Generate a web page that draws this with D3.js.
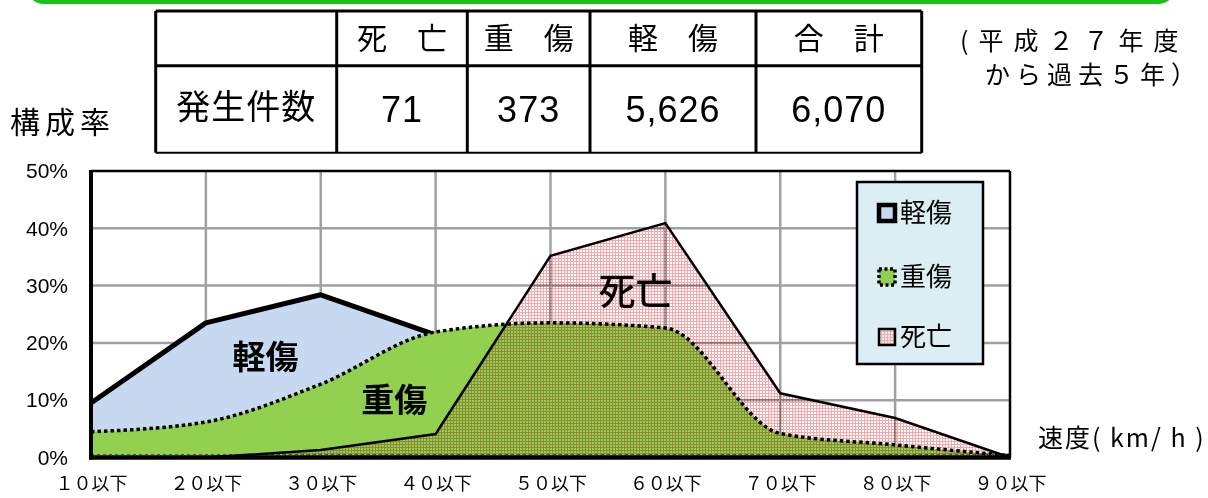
<!DOCTYPE html>
<meta charset="utf-8">
<style>
body { margin: 0; background: #fff; }
svg text { font-family: "Noto Sans CJK JP", "Noto Sans", sans-serif; fill: #000; }
.num { font-family: "Liberation Sans", Arial, sans-serif; }
</style>
<svg width="1208" height="498"></svg>
<script src="https://d3js.org/d3.v7.min.js"></script>
<script>

// speed bands (km/h) and share of each injury class per band
var speeds = ["１０以下", "２０以下", "３０以下", "４０以下", "５０以下", "６０以下", "７０以下", "８０以下", "９０以下"];
var keisho = [0.095, 0.235, 0.284, 0.214, 0.120, 0.036, 0.010, 0.004, 0.002];   // 軽傷
var jusho  = [0.045, 0.062, 0.128, 0.219, 0.235, 0.226, 0.042, 0.022, 0.003];   // 重傷
var shibo  = [0.000, 0.000, 0.013, 0.041, 0.352, 0.409, 0.112, 0.069, 0.000];   // 死亡
var yTicks = [0, 0.1, 0.2, 0.3, 0.4, 0.5];

// summary table
var tableHeads  = ["死　亡", "重　傷", "軽　傷", "合　計"];
var tableCounts = ["71", "373", "5,626", "6,070"];
var rowLabel = "発生件数";

var svg = d3.select("svg"),
    W = +svg.attr("width"),
    H = +svg.attr("height");

svg.append("rect").attr("width", W).attr("height", H).attr("fill", "#fff");

var x = d3.scalePoint().domain(speeds).range([91, 1010]),
    y = d3.scaleLinear().domain([0, 0.5]).range([457.5, 171]);

var defs = svg.append("defs");
var pat = defs.append("pattern")
    .attr("id", "pinkHatch")
    .attr("patternUnits", "userSpaceOnUse")
    .attr("width", 3).attr("height", 3);
pat.append("rect").attr("width", 3).attr("height", 1).attr("fill", "#f7a8ab");
pat.append("rect").attr("width", 1).attr("height", 3).attr("fill", "#f7a8ab");

// top frame edge (bottom of title box)
svg.append("rect")
    .attr("x", 28).attr("y", -40)
    .attr("width", 1146).attr("height", 42)
    .attr("rx", 16)
    .attr("fill", "none")
    .attr("stroke", "#18c418")
    .attr("stroke-width", 4);

// ---- table ----
var colEdges = [155.7, 336.7, 467.3, 590, 756, 921.7],
    rowEdges = [11, 65.7, 152.7];

var tbl = svg.append("g");
tbl.selectAll("line.v").data(colEdges).enter().append("line")
    .attr("x1", function(d) { return d; }).attr("x2", function(d) { return d; })
    .attr("y1", rowEdges[0]).attr("y2", rowEdges[2])
    .attr("stroke", "#000").attr("stroke-width", 3);
tbl.selectAll("line.h").data(rowEdges).enter().append("line")
    .attr("x1", colEdges[0]).attr("x2", colEdges[5])
    .attr("y1", function(d) { return d; }).attr("y2", function(d) { return d; })
    .attr("stroke", "#000").attr("stroke-width", function(d, i) { return i == 2 ? 2 : 3; });

tbl.selectAll("text.head").data(tableHeads).enter().append("text")
    .attr("x", function(d, i) { return (colEdges[i + 1] + colEdges[i + 2]) / 2; })
    .attr("y", (rowEdges[0] + rowEdges[1]) / 2)
    .attr("dy", "0.36em")
    .attr("text-anchor", "middle")
    .style("font-size", "30px")
    .text(function(d) { return d; });

tbl.selectAll("text.cnt").data(tableCounts).enter().append("text")
    .attr("class", "num")
    .attr("x", function(d, i) { return (colEdges[i + 1] + colEdges[i + 2]) / 2; })
    .attr("y", (rowEdges[1] + rowEdges[2]) / 2)
    .attr("dy", "0.36em")
    .attr("text-anchor", "middle")
    .style("font-size", "36px")
    .style("letter-spacing", "1px")
    .text(function(d) { return d; });

tbl.append("text")
    .attr("x", (colEdges[0] + colEdges[1]) / 2)
    .attr("y", (rowEdges[1] + rowEdges[2]) / 2 - 2)
    .attr("dy", "0.36em")
    .attr("text-anchor", "middle")
    .style("font-size", "34px")
    .style("letter-spacing", "1px")
    .text(rowLabel);

svg.append("text")
    .attr("x", 960).attr("y", 50)
    .style("font-size", "25px")
    .style("letter-spacing", "10px")
    .text("(平成２７年度");
svg.append("text")
    .attr("x", 985).attr("y", 84)
    .style("font-size", "25px")
    .style("letter-spacing", "6px")
    .text("から過去５年）");

svg.append("text")
    .attr("x", 10).attr("y", 133)
    .style("font-size", "30px")
    .style("letter-spacing", "5px")
    .text("構成率");

// ---- plot ----
var grid = svg.append("g").attr("stroke", "#a0a0a0").attr("stroke-width", 2.5);
grid.selectAll("line.gy").data(yTicks.slice(1, -1)).enter().append("line")
    .attr("x1", x.range()[0]).attr("x2", x.range()[1])
    .attr("y1", function(d) { return y(d); }).attr("y2", function(d) { return y(d); });
grid.selectAll("line.gx").data(speeds.slice(1, -1)).enter().append("line")
    .attr("x1", function(d) { return x(d); }).attr("x2", function(d) { return x(d); })
    .attr("y1", y(0.5)).attr("y2", y(0));

function areaOf(vals, curve) {
  return d3.area()
      .x(function(d, i) { return x(speeds[i]); })
      .y0(y(0))
      .y1(function(d) { return y(d); })
      .curve(curve)(vals);
}
function lineOf(vals, curve) {
  return d3.line()
      .x(function(d, i) { return x(speeds[i]); })
      .y(function(d) { return y(d); })
      .curve(curve)(vals);
}

// 軽傷
svg.append("path").attr("d", areaOf(keisho, d3.curveLinear)).attr("fill", "#c6d9f0");
svg.append("path").attr("d", lineOf(keisho, d3.curveLinear))
    .attr("fill", "none").attr("stroke", "#000").attr("stroke-width", 5)
    .attr("stroke-linejoin", "round");

// 重傷
svg.append("path").attr("d", areaOf(jusho, d3.curveMonotoneX)).attr("fill", "#92d050");
svg.append("path").attr("d", lineOf(jusho, d3.curveMonotoneX))
    .attr("fill", "none").attr("stroke", "#000").attr("stroke-width", 3.5)
    .attr("stroke-dasharray", "3.5,3");
svg.append("line")
    .attr("x1", x.range()[0]).attr("x2", x.range()[1])
    .attr("y1", y(0) - 3).attr("y2", y(0) - 3)
    .attr("stroke", "#555").attr("stroke-width", 1).attr("stroke-dasharray", "3,3");

// 死亡
svg.append("path").attr("d", areaOf(shibo, d3.curveLinear))
    .attr("fill", "url(#pinkHatch)")
    .style("mix-blend-mode", "multiply");
svg.append("path").attr("d", lineOf(shibo, d3.curveLinear))
    .attr("fill", "none").attr("stroke", "#000").attr("stroke-width", 2.5);

// frame
var fr = svg.append("g").attr("stroke", "#000");
fr.append("line").attr("x1", x.range()[0]).attr("x2", x.range()[1]).attr("y1", y(0.5)).attr("y2", y(0.5)).attr("stroke-width", 2.5);
fr.append("line").attr("x1", x.range()[1]).attr("x2", x.range()[1]).attr("y1", y(0.5)).attr("y2", y(0)).attr("stroke-width", 2.5);
fr.append("line").attr("x1", x.range()[0]).attr("x2", x.range()[0]).attr("y1", y(0.5) - 1).attr("y2", y(0) + 2).attr("stroke-width", 4);
fr.append("line").attr("x1", x.range()[0] - 2).attr("x2", x.range()[1] + 1).attr("y1", y(0)).attr("y2", y(0)).attr("stroke-width", 4.5);

// axes
var yAxis = svg.append("g")
    .attr("transform", "translate(" + x.range()[0] + ",0)")
    .call(d3.axisLeft(y).tickValues(yTicks).tickFormat(d3.format(".0%")).tickSize(0).tickPadding(23));
yAxis.select(".domain").remove();
yAxis.selectAll("text").attr("class", "num").style("font-size", "21px");

var xAxis = svg.append("g")
    .attr("transform", "translate(0," + y(0) + ")")
    .call(d3.axisBottom(x).tickSize(0).tickPadding(20));
xAxis.select(".domain").remove();
xAxis.selectAll("text").style("font-size", "18px").style("font-family", "'Noto Sans CJK JP'");

// in-chart labels
var step = x.step();
svg.append("text")
    .attr("x", x(speeds[1]) + step * 0.52).attr("y", y(0.175)).attr("dy", "0.36em")
    .attr("text-anchor", "middle").style("font-size", "33px").style("font-weight", "bold")
    .text("軽傷");
svg.append("text")
    .attr("x", x(speeds[2]) + step * 0.64).attr("y", y(0.1)).attr("dy", "0.36em")
    .attr("text-anchor", "middle").style("font-size", "33px").style("font-weight", "bold")
    .text("重傷");
svg.append("text")
    .attr("x", x(speeds[4]) + step * 0.74).attr("y", y(0.29)).attr("dy", "0.36em")
    .attr("text-anchor", "middle").style("font-size", "37px").style("font-weight", "500")
    .text("死亡");

svg.append("text")
    .attr("x", 1038).attr("y", 447)
    .style("font-size", "25px")
    .style("letter-spacing", "2px")
    .text("速度( km/ h )");

// legend
var lg = svg.append("g").attr("transform", "translate(857,182)");
lg.append("rect").attr("width", 126).attr("height", 182)
    .attr("fill", "#dbeef4").attr("stroke", "#000").attr("stroke-width", 2.5);

var legendItems = [
  { name: "軽傷", fill: "#c6d9f0", stroke: "#000", sw: 4.5, dash: null },
  { name: "重傷", fill: "#92d050", stroke: "#000", sw: 3.5, dash: "3,2.5" },
  { name: "死亡", fill: "url(#pinkHatch)", stroke: "#000", sw: 2.5, dash: null }
];
var lgRows = [31, 95, 155];
var li = lg.selectAll("g.item").data(legendItems).enter().append("g")
    .attr("transform", function(d, i) { return "translate(0," + lgRows[i] + ")"; });
li.append("rect")
    .attr("x", 22).attr("y", -8).attr("width", 16).attr("height", 16)
    .attr("fill", function(d) { return d.fill; })
    .attr("stroke", function(d) { return d.stroke; })
    .attr("stroke-width", function(d) { return d.sw; })
    .attr("stroke-dasharray", function(d) { return d.dash; });
li.append("text")
    .attr("x", 43).attr("dy", "0.36em")
    .style("font-size", "26px")
    .text(function(d) { return d.name; });

</script>
